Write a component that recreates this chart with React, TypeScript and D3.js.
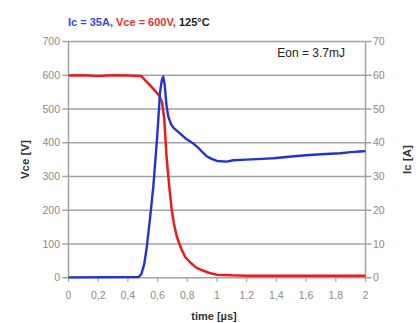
import React from "react";
import * as d3 from "d3";

// Turn-on switching waveforms: collector-emitter voltage and collector current
const vceTime = [0, 0.1, 0.2, 0.3, 0.4, 0.49, 0.52, 0.55, 0.58, 0.61, 0.63, 0.645, 0.66, 0.672, 0.683, 0.695, 0.71, 0.729, 0.76, 0.785, 0.82, 0.86, 0.9, 0.95, 1.0, 1.1, 1.2, 1.3, 1.4, 1.5, 1.6, 1.7, 1.8, 1.9, 2.0];
const vceValues = [599, 600, 598, 600, 599, 598, 583, 570, 555, 540, 520, 470, 360, 300, 251, 201, 160, 122, 85, 62, 45, 30, 22, 14, 9, 7, 6, 6, 6, 6, 6, 6, 6, 6, 6];

const icTime = [0, 0.47, 0.49, 0.51, 0.527, 0.55, 0.571, 0.594, 0.605, 0.616, 0.628, 0.638, 0.648, 0.66, 0.672, 0.69, 0.706, 0.75, 0.796, 0.84, 0.874, 0.9, 0.93, 0.964, 1.0, 1.065, 1.11, 1.2, 1.3, 1.38, 1.5, 1.6, 1.7, 1.83, 1.9, 1.96, 2.0];
const icValues = [0.1, 0.2, 1, 4, 9, 18, 27, 40, 47, 54.8, 58.5, 59.6, 57, 51, 47.8, 45.5, 44.5, 42.8, 41, 39.8, 38.5, 37.3, 36, 35.2, 34.6, 34.4, 34.8, 35, 35.2, 35.4, 35.9, 36.3, 36.6, 36.9, 37.2, 37.4, 37.5];

const timeTicks = [0, 0.2, 0.4, 0.6, 0.8, 1, 1.2, 1.4, 1.6, 1.8, 2];
const vceTicks = [0, 100, 200, 300, 400, 500, 600, 700];
const icTicks = [0, 10, 20, 30, 40, 50, 60, 70];

const W = 419;
const H = 323;
const plot = { left: 68.5, right: 365.5, top: 41.5, bottom: 277.7 };

const font = "'Liberation Sans', Arial, sans-serif";
const grey = "#a3a3a3";
const labelGrey = "#8a8a8a";
const blue = "#2233d6";
const red = "#ec1a1a";

export default function App() {
  const x = d3.scaleLinear().domain([0, 2]).range([plot.left, plot.right]);
  const yV = d3.scaleLinear().domain([0, 700]).range([plot.bottom, plot.top]);
  const yI = d3.scaleLinear().domain([0, 70]).range([plot.bottom, plot.top]);

  const vceLine = d3
    .line<number>()
    .x((_, i) => x(vceTime[i]))
    .y((d) => yV(d));
  const icLine = d3
    .line<number>()
    .x((_, i) => x(icTime[i]))
    .y((d) => yI(d));

  return (
    <svg
      width={W}
      height={H}
      style={{ position: "absolute", left: 0, top: 0, background: "#fff" }}
      fontFamily={font}
    >
      {/* horizontal gridlines */}
      {vceTicks.slice(1).map((v) => (
        <line key={v} x1={plot.left - 6} x2={plot.right + 6} y1={yV(v)} y2={yV(v)} stroke={grey} strokeWidth={1.5} />
      ))}
      {/* left and right axes */}
      <line x1={plot.left} x2={plot.left} y1={plot.top} y2={plot.bottom} stroke={grey} strokeWidth={1.5} />
      <line x1={plot.right} x2={plot.right} y1={plot.top} y2={plot.bottom} stroke={grey} strokeWidth={1.5} />
      {/* bottom axis */}
      <line x1={plot.left - 6} x2={plot.right + 6} y1={plot.bottom} y2={plot.bottom} stroke={grey} strokeWidth={1.5} />
      {timeTicks.map((t) => (
        <line key={t} x1={x(t)} x2={x(t)} y1={plot.bottom} y2={plot.bottom + 4} stroke={grey} strokeWidth={1.2} />
      ))}

      {/* left tick labels */}
      {vceTicks.map((v) => (
        <text key={v} x={60} y={yV(v)} dy="0.35em" textAnchor="end" fontSize={10.5} fill={labelGrey}>
          {v}
        </text>
      ))}
      {/* right tick labels */}
      {icTicks.map((v) => (
        <text key={v} x={373} y={yI(v)} dy="0.35em" textAnchor="start" fontSize={10.5} fill={labelGrey}>
          {v}
        </text>
      ))}
      {/* bottom tick labels */}
      {timeTicks.map((t) => (
        <text key={t} x={x(t)} y={295} dy="0.35em" textAnchor="middle" fontSize={10.5} fill={labelGrey}>
          {String(t).replace(".", ",")}
        </text>
      ))}

      {/* traces */}
      <path d={vceLine(vceValues) ?? ""} fill="none" stroke={red} strokeWidth={2.5} strokeLinejoin="round" />
      <path d={icLine(icValues) ?? ""} fill="none" stroke={blue} strokeWidth={2.4} strokeLinejoin="round" />

      {/* title */}
      <text x={68} y={21.7} dy="0.35em" fontSize={11} fontWeight="bold">
        <tspan fill="#3a48e0">Ic = 35A, </tspan>
        <tspan fill="#e8302a">Vce = 600V, </tspan>
        <tspan fill="#222">125°C</tspan>
      </text>

      <text x={345} y={52.7} dy="0.35em" textAnchor="end" fontSize={12} fill="#222">
        Eon = 3.7mJ
      </text>

      {/* axis titles */}
      <text x={214} y={316.5} dy="0.35em" textAnchor="middle" fontSize={11} fontWeight="bold" fill="#333">
        time [µs]
      </text>
      <text
        transform={`translate(25,${(plot.top + plot.bottom) / 2}) rotate(-90)`}
        dy="0.35em"
        textAnchor="middle"
        fontSize={11.5}
        fontWeight="bold"
        fill="#333"
      >
        Vce [V]
      </text>
      <text
        transform={`translate(407,${(plot.top + plot.bottom) / 2}) rotate(-90)`}
        dy="0.35em"
        textAnchor="middle"
        fontSize={11.5}
        fontWeight="bold"
        fill="#333"
      >
        Ic [A]
      </text>
    </svg>
  );
}
